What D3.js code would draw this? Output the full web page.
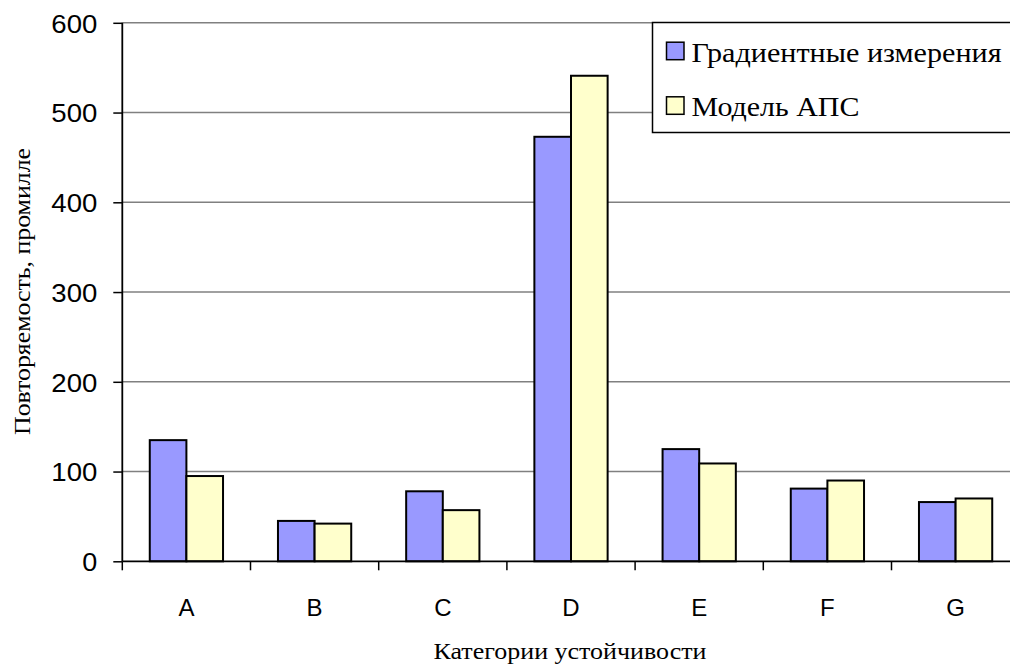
<!DOCTYPE html>
<html>
<head>
<meta charset="utf-8">
<script src="https://cdn.jsdelivr.net/npm/d3@7"></script>
<style>
  html, body { margin: 0; padding: 0; background: #fff; }
  svg { display: block; }
</style>
</head>
<body>
<svg id="chart" width="1010" height="664"></svg>
<script>
// Stability categories and the two compared series (per mille)
const categories = ["A", "B", "C", "D", "E", "F", "G"];
const seriesNames = ["Градиентные измерения", "Модель АПС"];
const gradientValues = [135, 45, 78, 473, 125, 81, 66];
const modelValues = [95, 42, 57, 541, 109, 90, 70];
const yTicks = [0, 100, 200, 300, 400, 500, 600];
const colors = ["#9999FF", "#FFFFCC"];

const svg = d3.select("#chart");
const serif = "Liberation Serif, Times New Roman, serif";
const sans = "Liberation Sans, Arial, sans-serif";

const plotLeft = 122.3, plotRight = 1019.7, plotTop = 22.8, plotBottom = 561.3;

const x = d3.scaleBand().domain(categories).range([plotLeft, plotRight]).paddingInner(0).paddingOuter(0);
// 150% gap between groups: each bar takes band / 3.5
const barW = x.bandwidth() / 3.5;
const gap = barW * 0.75;

const y = d3.scaleLinear().domain([0, 600]).range([plotBottom, plotTop]);

// horizontal gridlines
svg.append("g")
  .selectAll("line")
  .data(yTicks.filter(d => d > 0))
  .join("line")
  .attr("x1", plotLeft).attr("x2", plotRight)
  .attr("y1", d => y(d)).attr("y2", d => y(d))
  .attr("stroke", "#808080").attr("stroke-width", 1.5);

// bars
const series = [gradientValues, modelValues];
const groups = svg.append("g");
series.forEach((vals, si) => {
  groups.append("g")
    .selectAll("rect")
    .data(categories.map((c, i) => ({ c, v: vals[i] })))
    .join("rect")
    .attr("x", d => x(d.c) + gap + si * barW)
    .attr("y", d => y(d.v))
    .attr("width", barW)
    .attr("height", d => y(0) - y(d.v))
    .attr("fill", colors[si])
    .attr("stroke", "#000")
    .attr("stroke-width", 2);
});

// y axis
const yAxis = d3.axisLeft(y).tickValues(yTicks).tickSize(9).tickPadding(16).tickFormat(d3.format("d"));
const gy = svg.append("g").attr("transform", `translate(${plotLeft},0)`).call(yAxis);
gy.select(".domain").attr("stroke", "#000").attr("stroke-width", 1.8).attr("d", `M0,${plotTop}V${plotBottom}`);
gy.selectAll(".tick line").attr("stroke", "#000").attr("stroke-width", 1.5);
gy.selectAll(".tick text")
  .attr("font-family", sans)
  .attr("font-size", 26).attr("fill", "#000").attr("dy", "0.36em")
  .attr("textLength", d => d === 0 ? 15 : 46)
  .attr("lengthAdjust", "spacingAndGlyphs");

// x axis: ticks at category boundaries
const boundaries = categories.map(c => x(c)).concat([plotRight]);
const gx = svg.append("g");
gx.append("line")
  .attr("x1", plotLeft).attr("x2", plotRight)
  .attr("y1", plotBottom).attr("y2", plotBottom)
  .attr("stroke", "#000").attr("stroke-width", 1.8);
gx.selectAll("line.tk")
  .data(boundaries)
  .join("line")
  .attr("class", "tk")
  .attr("x1", d => d).attr("x2", d => d)
  .attr("y1", plotBottom).attr("y2", plotBottom + 9)
  .attr("stroke", "#000").attr("stroke-width", 1.5);
gx.selectAll("text")
  .data(categories)
  .join("text")
  .attr("x", d => x(d) + x.bandwidth() / 2)
  .attr("y", 615.5)
  .attr("text-anchor", "middle")
  .attr("font-family", sans)
  .attr("font-size", 24)
  .text(d => d);

// axis titles
svg.append("text")
  .attr("x", 570).attr("y", 658.5)
  .attr("text-anchor", "middle")
  .attr("font-family", serif)
  .attr("font-size", 23)
  .attr("textLength", 273).attr("lengthAdjust", "spacingAndGlyphs")
  .text("Категории устойчивости");

svg.append("text")
  .attr("transform", "translate(30,291.5) rotate(-90)")
  .attr("text-anchor", "middle")
  .attr("font-family", serif)
  .attr("font-size", 23)
  .attr("textLength", 287).attr("lengthAdjust", "spacingAndGlyphs")
  .text("Повторяемость, промилле");

// legend
const lg = svg.append("g");
lg.append("rect")
  .attr("x", 652.5).attr("y", 22.5)
  .attr("width", 400).attr("height", 110)
  .attr("fill", "#fff").attr("stroke", "#000").attr("stroke-width", 1.5);
const legendRows = [61.7, 116.3];
const legendWidths = [310, 168];
seriesNames.forEach((name, i) => {
  lg.append("rect")
    .attr("x", 666.5).attr("y", legendRows[i] - 19.5)
    .attr("width", 17.5).attr("height", 17.5)
    .attr("fill", colors[i]).attr("stroke", "#000").attr("stroke-width", 1.5);
  lg.append("text")
    .attr("x", 691.5).attr("y", legendRows[i])
    .attr("font-family", serif)
    .attr("font-size", 28)
    .attr("textLength", legendWidths[i]).attr("lengthAdjust", "spacingAndGlyphs")
    .text(name);
});
</script>
</body>
</html>
